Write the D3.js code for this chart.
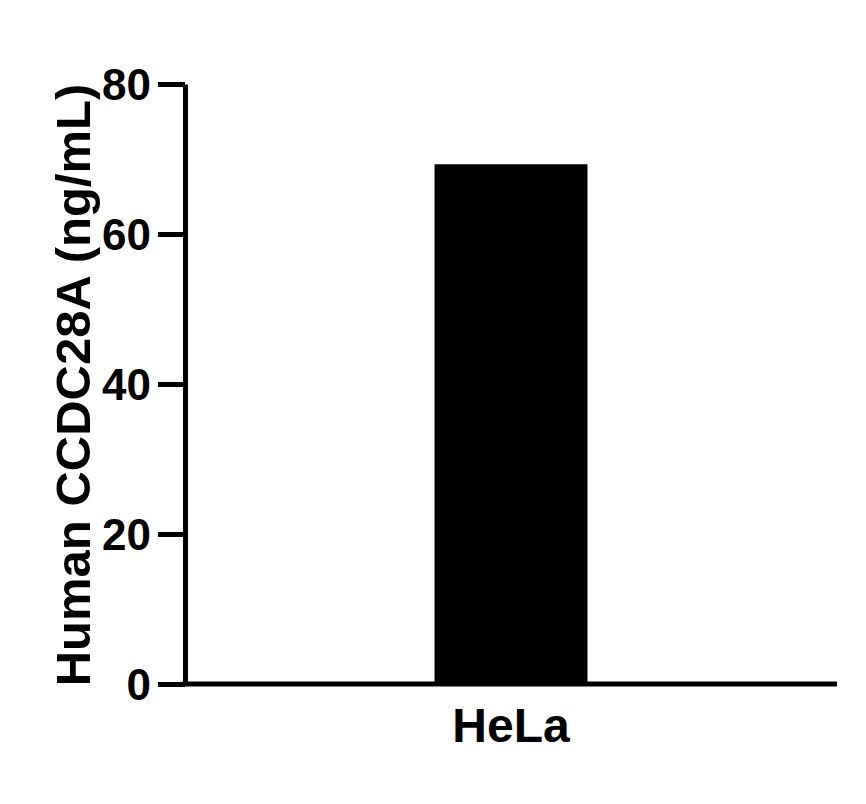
<!DOCTYPE html>
<html>
<head>
<meta charset="utf-8">
<script src="https://cdn.jsdelivr.net/npm/d3@7"></script>
<style>
  body { margin: 0; background: #fff; }
  text { font-family: "Liberation Sans", Arial, sans-serif; font-weight: bold; }
</style>
</head>
<body>
<svg id="chart" width="866" height="804"></svg>
<script>
const categories = ['HeLa']
const values = [69.3]
const yTicks = [0, 20, 40, 60, 80]
const yLabel = 'Human CCDC28A (ng/mL)'

const svg = d3.select('#chart')
const dims = { left: 185, right: 837, top: 84, bottom: 684 }

const x = d3.scaleBand()
  .domain(categories)
  .range([dims.left, dims.right])
  .paddingInner(0.62)
  .paddingOuter(0.62)

const y = d3.scaleLinear()
  .domain([0, 80])
  .range([dims.bottom, dims.top])

// bars
svg.selectAll('.bar')
  .data(categories)
  .enter()
  .append('rect')
  .attr('class', 'bar')
  .attr('x', d => x(d))
  .attr('width', x.bandwidth())
  .attr('y', (d, i) => y(values[i]))
  .attr('height', (d, i) => y(0) - y(values[i]))
  .attr('fill', '#000')

// y axis
const yAxis = svg.append('g')
  .attr('transform', `translate(${dims.left}, 0)`)
  .call(d3.axisLeft(y).tickValues(yTicks).tickSize(27).tickPadding(7).tickSizeOuter(0))
yAxis.select('.domain').attr('stroke-width', 5).attr('stroke', '#000')
yAxis.selectAll('.tick line').attr('stroke-width', 5).attr('stroke', '#000')
yAxis.selectAll('.tick text')
  .attr('font-size', 44)
  .attr('fill', '#000')
  .attr('dy', '0.36em')

// x axis
const xAxis = svg.append('g')
  .attr('transform', `translate(0, ${dims.bottom})`)
  .call(d3.axisBottom(x).tickSize(0).tickPadding(24).tickSizeOuter(0))
xAxis.select('.domain')
  .attr('d', `M${dims.left - 2.5},0H${dims.right}`)
  .attr('stroke-width', 5).attr('stroke', '#000')
xAxis.selectAll('.tick text')
  .attr('font-size', 48)
  .attr('fill', '#000')
  .attr('dy', '0.71em')

// y label
svg.append('text')
  .attr('transform', `translate(90, ${(dims.top + dims.bottom) / 2 + 1}) rotate(-90)`)
  .attr('text-anchor', 'middle')
  .attr('font-size', 49)
  .attr('fill', '#000')
  .text(yLabel)
</script>
</body>
</html>
